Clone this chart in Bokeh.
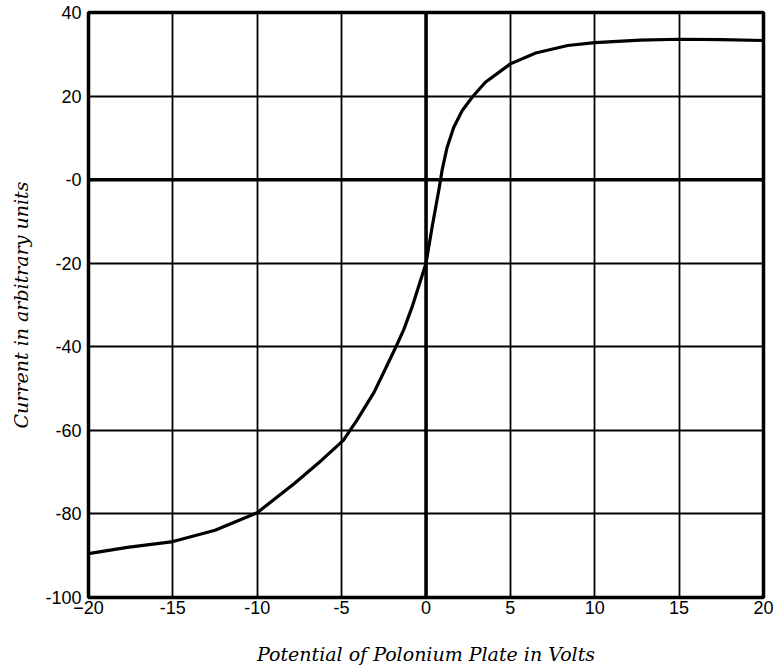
from bokeh.plotting import figure
from bokeh.models import Span, FixedTicker
from bokeh.embed import file_html
from bokeh.resources import INLINE

# Data
volts = [-20, -17.7, -15.1, -12.5, -10, -7.8, -6.2, -4.9, -4.1, -3.08, -2.41, -1.78, -1.33, -0.8, 0,
         0.36, 0.79, 0.95, 1.25, 1.64, 2.14, 2.77, 3.52, 5, 6.5, 8.4, 10, 12.7, 15, 17.5, 20]
current = [-89.5, -88.0, -86.7, -83.9, -79.7, -72.7, -67.2, -62.4, -57.6, -50.9, -45.3, -40, -36.0, -30.2, -20,
           -11.4, -1.8, 2.2, 7.7, 12.5, 16.5, 19.9, 23.3, 27.7, 30.3, 32.1, 32.8, 33.4, 33.6, 33.5, 33.3]

x_ticks = [-20, -15, -10, -5, 0, 5, 10, 15, 20]
x_tick_labels = ["\u221220", "-15", "-10", "-5", "0", "5", "10", "15", "20"]
y_ticks = [-100, -80, -60, -40, -20, 0, 20, 40]
y_tick_labels = ["-100", "-80", "-60", "-40", "-20", "-0", "20", "40"]

p = figure(width=784, height=667, x_range=(-20, 20), y_range=(-100, 40),
           output_backend="svg", toolbar_location=None,
           min_border_left=88, min_border_right=21, min_border_top=12, min_border_bottom=70)

p.xaxis.ticker = FixedTicker(ticks=x_ticks)
p.yaxis.ticker = FixedTicker(ticks=y_ticks)
p.xaxis.major_label_overrides = {t: l for t, l in zip(x_ticks, x_tick_labels)}
p.yaxis.major_label_overrides = {t: l for t, l in zip(y_ticks, y_tick_labels)}

for ax in (p.xaxis, p.yaxis):
    ax.major_tick_out = 0
    ax.major_tick_in = 0
    ax.minor_tick_out = 0
    ax.minor_tick_in = 0
    ax.axis_line_color = None
    ax.major_label_text_font = "Liberation Sans"
    ax.major_label_text_font_size = "18px"
    ax.major_label_text_color = "black"
    ax.axis_label_text_font = "DejaVu Serif"
    ax.axis_label_text_font_style = "italic"
    ax.axis_label_text_font_size = "19px"
    ax.axis_label_text_color = "black"

p.xaxis.major_label_standoff = 3
p.yaxis.major_label_standoff = 7
p.xaxis.axis_label = "Potential of Polonium Plate in Volts"
p.yaxis.axis_label = "Current in arbitrary units"
p.xaxis.axis_label_standoff = 26
p.yaxis.axis_label_standoff = 10

p.grid.grid_line_color = "black"
p.grid.grid_line_width = 1.8
p.grid.grid_line_alpha = 1.0

p.outline_line_color = "black"
p.outline_line_width = 3.5
p.outline_line_alpha = 1.0

p.add_layout(Span(location=0, dimension="height", line_color="black", line_width=3.5))
p.add_layout(Span(location=0, dimension="width", line_color="black", line_width=3.5))

p.line(volts, current, line_color="black", line_width=3.2, line_join="round")

p.background_fill_color = "white"
p.border_fill_color = "white"

open("out.html", "w").write(file_html(p, INLINE))
